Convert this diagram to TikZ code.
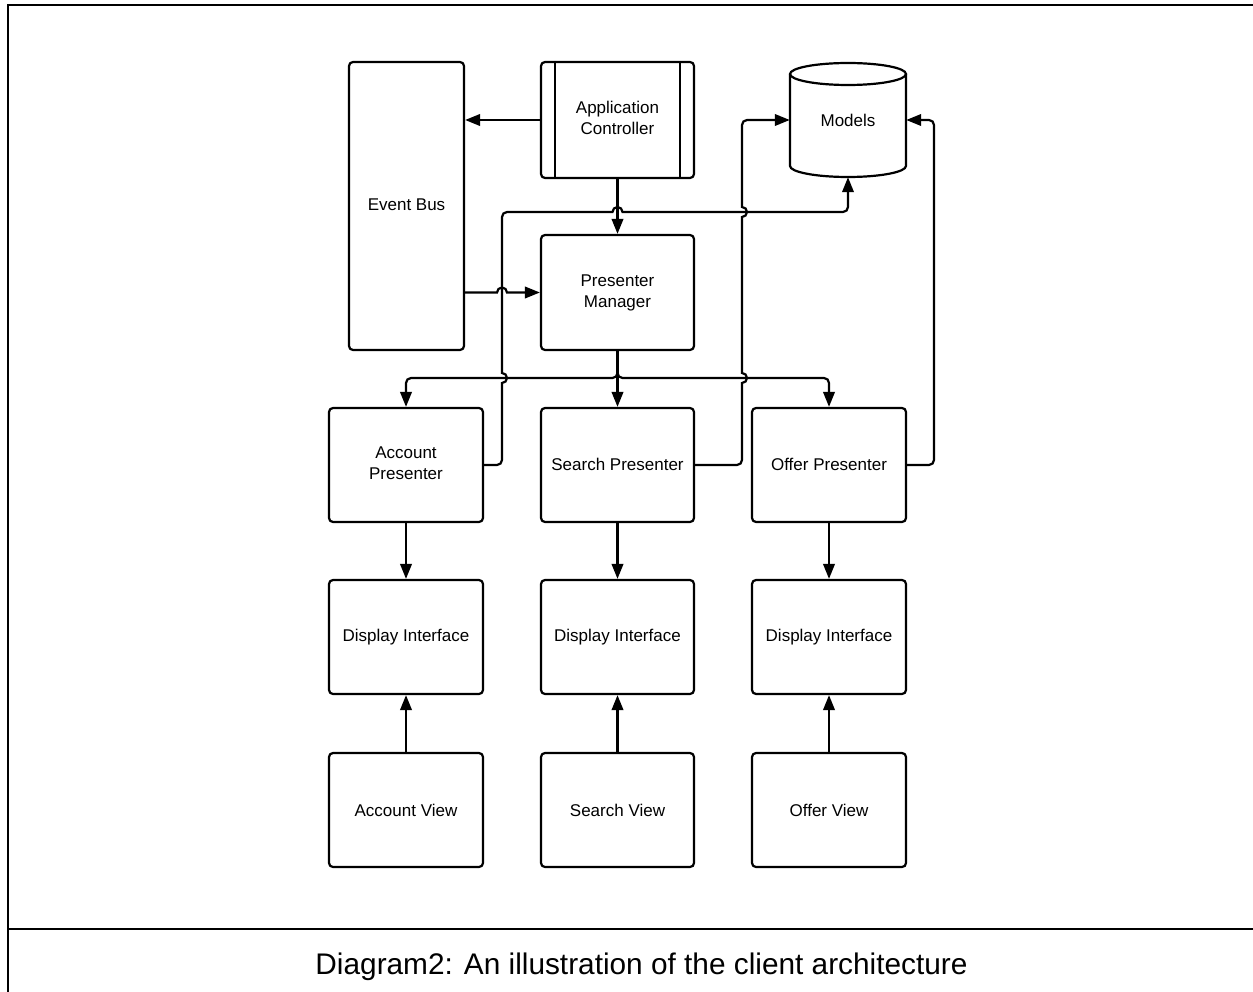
\documentclass[tikz,border=0pt]{standalone}
\usepackage{fontspec}
\setmainfont{Liberation Sans}
\usetikzlibrary{arrows.meta}
\newcommand{\twolines}[2]{\raisebox{2.5pt}{\begin{tabular}{@{}c@{}}#1\\#2\end{tabular}}}
\tikzset{
  box/.style={draw, line width=2.2pt, rounded corners=4pt, minimum width=153pt, minimum height=114pt,
    align=center, inner sep=0pt, font=\fontsize{17}{21}\selectfont},
  conn/.style={line width=2.2pt, -{Triangle[length=15pt,width=11.5pt]}, rounded corners=5pt},
  frame/.style={line width=2.5pt}
}
\begin{document}
\begin{tikzpicture}[x=1pt,y=-1pt]
\useasboundingbox (0,0) rectangle (1253,992);
% frame
\draw[frame] (8,992) -- (8,5) -- (1253,5);
\draw[frame] (8,929) -- (1253,929);
\node[font=\fontsize{29.8}{34}\selectfont, anchor=base] (cap) at (641.5,974) {Diagram2: An illustration of the client architecture};

% nodes
\node[box, minimum width=115pt, minimum height=288pt] (eb) at (406.5,206) {\raisebox{2pt}{Event Bus}};
\node[box, minimum height=116pt] (ac) at (617.5,120) {\twolines{Application}{Controller}};
\draw[line width=2.2pt] ([xshift=15pt]ac.north west) -- ([xshift=15pt]ac.south west);
\draw[line width=2.2pt] ([xshift=-15pt]ac.north east) -- ([xshift=-15pt]ac.south east);
\node[minimum width=116pt, minimum height=114pt, inner sep=0pt, font=\fontsize{17}{21}\selectfont] (models) at (848,120) {\raisebox{-2pt}{Models}};
\draw[line width=2.2pt] (790,74) -- (790,166) arc[start angle=180, end angle=0, x radius=58, y radius=11] -- (906,74);
\draw[line width=2.2pt] (848,74) ellipse[x radius=58, y radius=11];
\node[box, minimum height=115pt] (pm) at (617.5,292.5) {\twolines{Presenter}{Manager}};
\node[box, minimum width=154pt] (ap) at (406,465) {\twolines{Account}{Presenter}};
\node[box] (sp) at (617.5,465) {\raisebox{2pt}{Search Presenter}};
\node[box, minimum width=154pt] (op) at (829,465) {\raisebox{2pt}{Offer Presenter}};
\node[box, minimum width=154pt] (d1) at (406,637) {Display Interface};
\node[box] (d2) at (617.5,637) {Display Interface};
\node[box, minimum width=154pt] (d3) at (829,637) {Display Interface};
\node[box, minimum width=154pt] (v1) at (406,810) {Account View};
\node[box] (v2) at (617.5,810) {Search View};
\node[box, minimum width=154pt] (v3) at (829,810) {Offer View};

% connectors
\draw[conn] (ac.west) -- (eb.east |- ac.west);
\draw[conn] (ac.south) -- (pm.north);
\draw[conn, sharp corners] (eb.east |- pm.west) -- (497,292.5) arc[start angle=180, end angle=360, radius=5] -- (pm.west);
\draw[conn] (pm.south) -- (617.5,378) -| (ap.north);
\draw[conn] (pm.south) -- (sp.north);
\draw[conn] (pm.south) -- (617.5,378) -| (op.north);
% account presenter -> models
\draw[conn] (ap.east) -- (502,465) [sharp corners] -- (502,383) arc[start angle=90, end angle=-90, radius=5]
  [rounded corners=5pt] -- (502,212) [sharp corners] -- (612.5,212) arc[start angle=180, end angle=360, radius=5]
  [rounded corners=5pt] -- (848,212) -- (models.south);
% search presenter -> models
\draw[conn] (sp.east) -- (742,465) [sharp corners] -- (742,383) arc[start angle=90, end angle=-90, radius=5]
  -- (742,217) arc[start angle=90, end angle=-90, radius=5] [rounded corners=5pt] -- (742,120) -- (models.west);
% offer presenter -> models
\draw[conn] (op.east) -- (934,465) -- (934,120) -- (models.east);
% presenters -> display interfaces
\draw[conn] (ap.south) -- (d1.north);
\draw[conn] (sp.south) -- (d2.north);
\draw[conn] (op.south) -- (d3.north);
% views -> display interfaces
\draw[conn] (v1.north) -- (d1.south);
\draw[conn] (v2.north) -- (d2.south);
\draw[conn] (v3.north) -- (d3.south);
\end{tikzpicture}
\end{document}
